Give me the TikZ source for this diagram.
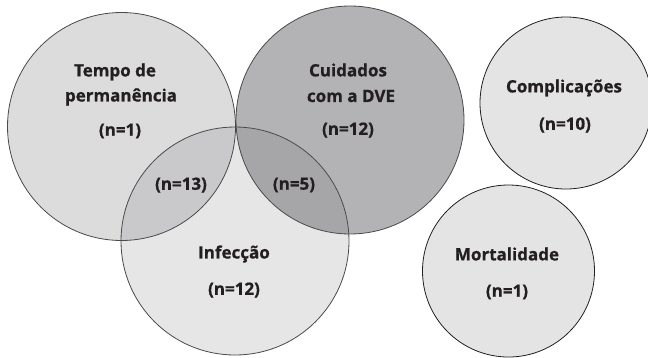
\documentclass[tikz,border=0pt]{standalone}
\usepackage{fontspec}
\setmainfont{Open Sans}[BoldFeatures={FakeBold=0.8}]
\definecolor{cA}{HTML}{DCDCDD}
\definecolor{cB}{HTML}{B3B3B5}
\definecolor{cC}{HTML}{E6E6E7}
\definecolor{cAC}{HTML}{C9C9CB}
\definecolor{cBC}{HTML}{A6A6A9}
\definecolor{cD}{HTML}{E4E4E5}
\definecolor{edge}{HTML}{4A4A4A}
\definecolor{txt}{HTML}{231F20}
\tikzset{
  setcircle/.style={circle, draw=edge, line width=0.8pt, inner sep=0pt},
  lbl/.style={font=\fontsize{17}{20}\selectfont\bfseries, text=txt, inner sep=0pt, anchor=center},
}
\begin{document}
\begin{tikzpicture}[x=1pt,y=-1pt]
\useasboundingbox (0,0) rectangle (648,357);
% fills
\fill[cA] (121.5,126.5) circle[radius=114pt];
\fill[cB] (350,120) circle[radius=114pt];
\fill[cC] (235,241) circle[radius=114pt];
\begin{scope}
  \clip (235,241) circle[radius=114pt];
  \fill[cAC] (121.5,126.5) circle[radius=114pt];
  \fill[cBC] (350,120) circle[radius=114pt];
\end{scope}
% outlines as named nodes
\node[setcircle, minimum size=228pt] (tempo) at (121.5,126.5) {};
\node[setcircle, minimum size=228pt] (cuid) at (350,120) {};
\node[setcircle, minimum size=228pt] (infec) at (235,241) {};
\node[setcircle, draw=txt, fill=cD, minimum size=172pt] (compl) at (566,103) {};
\node[setcircle, draw=txt, fill=cD, minimum size=172pt] (mort) at (508.5,271) {};
% labels
\node[lbl] (t1) at (115,72) {Tempo de};
\node[lbl] (t2) at (121,97) {permanência};
\node[lbl] (t3) at (120,131) {(n=1)};
\node[lbl] (c1) at (348,70) {Cuidados};
\node[lbl] (c2) at (351,96) {com a DVE};
\node[lbl] (c3) at (348,130) {(n=12)};
\node[lbl] (k1) at (564,88) {Complicações};
\node[lbl] (k2) at (565,125) {(n=10)};
\node[lbl] (i13) at (181,185) {(n=13)};
\node[lbl] (i5) at (294,185) {(n=5)};
\node[lbl] (f1) at (234,254) {Infecção};
\node[lbl] (f2) at (234,290) {(n=12)};
\node[lbl] (m1) at (507,254) {Mortalidade};
\node[lbl] (m2) at (507,292) {(n=1)};
\end{tikzpicture}
\end{document}
